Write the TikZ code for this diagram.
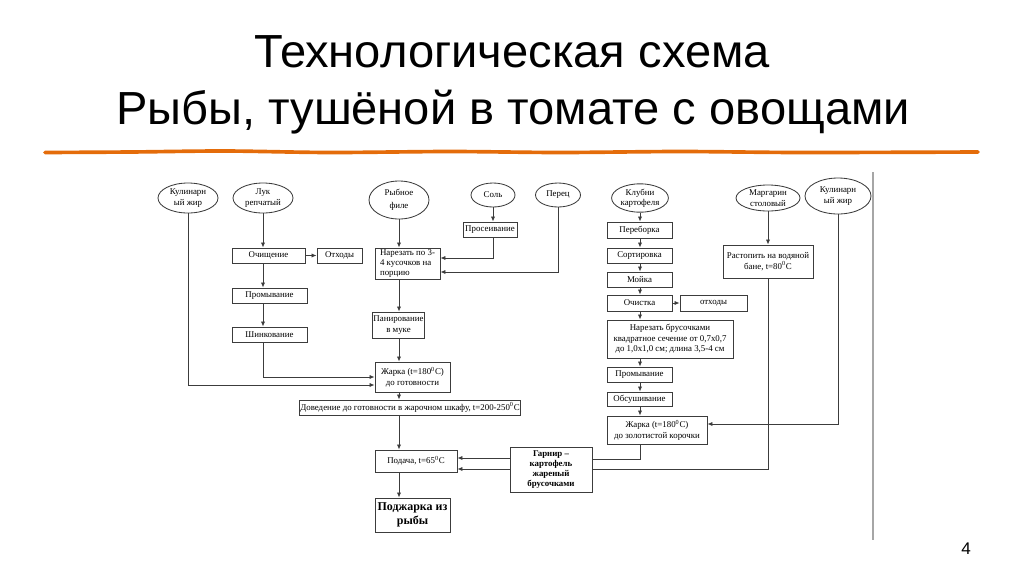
\documentclass[tikz,border=0pt]{standalone}
\usepackage{fontspec}
\usepackage{tikz}
\usetikzlibrary{shapes.geometric,arrows.meta}
\setmainfont{Liberation Serif}
\newfontfamily\titlefont[FakeStretch=1.015]{Liberation Sans}
\newcommand{\dg}{\textsuperscript{0}}
\definecolor{accent}{RGB}{228,108,10}
\definecolor{ink}{RGB}{60,60,60}
\tikzset{wh/.style 2 args={minimum width=#1*0.025cm, minimum height=#2*0.025cm},
    every node/.style={inner sep=0.5pt, align=center,
        font=\fontsize{6.3}{7.4}\selectfont},
    box/.style={draw=ink, line width=0.6pt, rectangle, fill=white},
    oval/.style={draw=ink, line width=0.6pt, ellipse, fill=white},
    arr/.style={draw=ink, line width=0.6pt, -{Latex[length=3.6pt,width=3pt]}},
    ln/.style={draw=ink, line width=0.6pt}}

\begin{document}
\begin{tikzpicture}[x=0.025cm, y=-0.025cm]
    \useasboundingbox (0,0) rectangle (1024,574);
    \node[font=\titlefont\fontsize{33}{36}\selectfont, anchor=base] (title1) at (512,67) {Технологическая схема};
    \node[font=\titlefont\fontsize{33}{36}\selectfont, anchor=base] (title2) at (513,124) {Рыбы, тушёной в томате с овощами};
    \draw[accent, line width=2.6pt, line cap=round] plot[smooth] coordinates
        {(45,152.5) (130,152) (225,151) (330,152.5) (450,151.5) (560,152.5) (680,151.5) (800,152.5) (978,152)};
    \node[font=\titlefont\fontsize{12}{14}\selectfont] (pagenum) at (966,549) {4};
    \draw[gray!70, line width=0.8pt] (873,172) -- (873,540);

    \node[oval, wh={60}{30}] (zhir1) at (188,198) {Кулинарн\\ый жир};
    \node[oval, wh={60}{30}] (luk) at (263,198) {Лук\\репчатый};
    \node[oval, wh={60}{38}] (ryba) at (399,200) {Рыбное\\[2pt]филе};
    \node[oval, wh={44}{24}] (sol) at (493,195) {Соль};
    \node[oval, wh={45}{24}] (perec) at (558,195) {Перец};
    \node[oval, wh={56}{28}] (klubni) at (640,198) {Клубни\\картофеля};
    \node[oval, wh={64}{26}] (marg) at (768,198) {Маргарин\\столовый};
    \node[oval, wh={66}{36}] (zhir2) at (838,196) {Кулинарн\\ый жир};

    \node[box, wh={73}{15}] (och) at (268.5,255.5) {Очищение};
    \node[box, wh={45}{15}] (otx1) at (339.5,255.5) {Отходы};
    \node[box, wh={75}{15}] (prom1) at (269.5,295.5) {Промывание};
    \node[box, wh={75}{15}] (shink) at (269.5,334.5) {Шинкование};

    \node[box, wh={65}{31}, align=left] (narez) at (407.5,263.5) {Нарезать по 3-\\4 кусочков на\\порцию};
    \node[box, wh={54}{15}] (pros) at (490,229.5) {Просеивание};
    \node[box, wh={47}{26}] (panir) at (398.5,325) {Панирование\\в муке};
    \node[box, wh={75}{30}] (zharka) at (412.5,377) {Жарка (t=180\dg С)\\до готовности};
    \node[box, wh={220}{15}] (dov) at (410,407.5) {Доведение до готовности в жарочном шкафу, t=200-250\dg С};
    \node[box, wh={82}{22}] (podacha) at (416,461) {Подача, t=65\dg С};
    \node[box, wh={75}{34}, font=\bfseries\fontsize{8.5}{10}\selectfont] (podzh) at (412.5,515) {Поджарка из\\рыбы};
    \node[box, wh={82}{45}, font=\bfseries\fontsize{6.3}{7.2}\selectfont] (garnir) at (551,469.5) {Гарнир –\\картофель\\жареный\\брусочками};

    \node[box, wh={65}{16}] (perebor) at (639.5,230) {Переборка};
    \node[box, wh={65}{15}] (sort) at (639.5,255.5) {Сортировка};
    \node[box, wh={65}{15}] (moika) at (639.5,279.5) {Мойка};
    \node[box, wh={65}{16}] (ochist) at (639.5,303) {Очистка};
    \node[box, wh={67}{16}] (otx2) at (713.5,303) {отходы};
    \node[box, wh={126}{38}] (brus) at (670,339) {Нарезать брусочками\\квадратное сечение от 0,7х0,7\\до 1,0х1,0 см; длина 3,5-4 см};
    \node[box, wh={65}{15}] (prom2) at (639.5,374.5) {Промывание};
    \node[box, wh={65}{14}] (obsush) at (639.5,399) {Обсушивание};
    \node[box, wh={100}{28}] (zharka2) at (657,430) {Жарка (t=180\dg С)\\до золотистой корочки};
    \node[box, wh={90}{33}] (rast) at (768,261.5) {Растопить на водяной\\бане, t=80\dg С};

    \draw[arr] (zhir1) |- (zharka.west |- 0,385);
    \draw[arr] (luk) -- (luk |- och.north);
    \draw[arr] (och) -- (otx1);
    \draw[arr] (luk |- och.south) -- (luk |- prom1.north);
    \draw[arr] (luk |- prom1.south) -- (luk |- shink.north);
    \draw[arr] (luk |- shink.south) |- (zharka.west);

    \draw[arr] (ryba) -- (ryba |- narez.north);
    \draw[arr] (sol) -- (sol |- pros.north);
    \draw[arr] (sol |- pros.south) |- (narez.east |- 0,258);
    \draw[arr] (perec) |- (narez.east |- 0,272);
    \draw[arr] (ryba |- narez.south) -- (ryba |- panir.north);
    \draw[arr] (ryba |- panir.south) -- (ryba |- zharka.north);
    \draw[arr] (ryba |- zharka.south) -- (ryba |- dov.north);
    \draw[arr] (ryba |- dov.south) -- (ryba |- podacha.north);
    \draw[arr] (ryba |- podacha.south) -- (ryba |- podzh.north);
    \draw[arr] (garnir.west |- 0,458) -- (podacha.east |- 0,458);
    \draw[arr] (garnir.west |- 0,469) -- (podacha.east |- 0,469);

    \draw[arr] (klubni) -- (klubni |- perebor.north);
    \draw[arr] (klubni |- perebor.south) -- (klubni |- sort.north);
    \draw[arr] (klubni |- sort.south) -- (klubni |- moika.north);
    \draw[arr] (klubni |- moika.south) -- (klubni |- ochist.north);
    \draw[arr] (ochist) -- (otx2);
    \draw[arr] (klubni |- ochist.south) -- (klubni |- brus.north);
    \draw[arr] (klubni |- brus.south) -- (klubni |- prom2.north);
    \draw[arr] (klubni |- prom2.south) -- (klubni |- obsush.north);
    \draw[arr] (klubni |- obsush.south) -- (klubni |- zharka2.north);
    \draw[ln] (klubni |- zharka2.south) |- (garnir.east |- 0,459);

    \draw[arr] (marg) -- (rast);
    \draw[ln] (rast) |- (garnir.east |- 0,469);
    \draw[arr] (zhir2) |- (zharka2.east |- 0,424);
\end{tikzpicture}
\end{document}
